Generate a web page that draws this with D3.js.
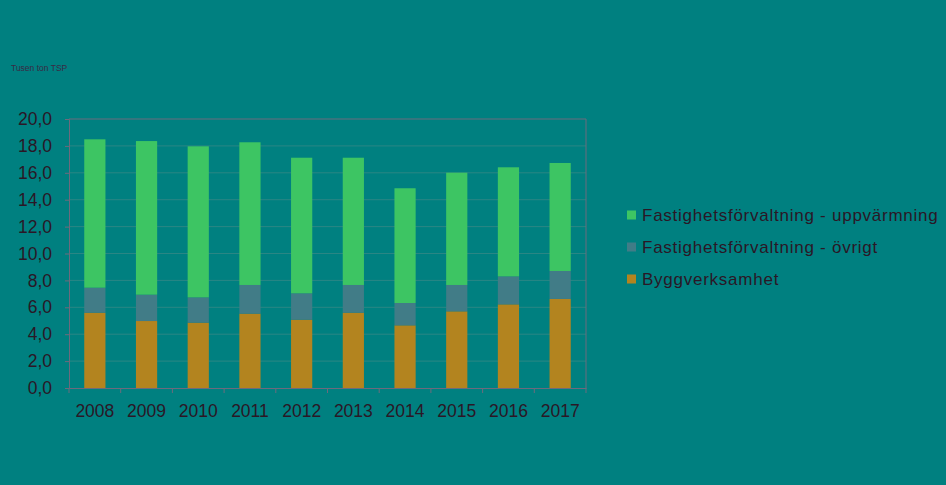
<!DOCTYPE html>
<html>
<head>
<meta charset="utf-8">
<script src="https://cdn.jsdelivr.net/npm/d3@7"></script>
<style>
  body { margin: 0; background: #008080; }
  svg { display: block; font-family: "Liberation Sans", Arial, sans-serif; }
</style>
</head>
<body>
<div id="chart"></div>
<script>
// data (tusen ton)
const years = ["2008", "2009", "2010", "2011", "2012", "2013", "2014", "2015", "2016", "2017"];
const bygg = [5.6, 4.98, 4.86, 5.53, 5.08, 5.6, 4.66, 5.7, 6.22, 6.62];
const ovrigt = [1.86, 1.96, 1.88, 2.13, 1.96, 2.06, 1.66, 1.96, 2.08, 2.08];
const uppvarm = [11.03, 11.42, 11.23, 10.61, 10.08, 9.46, 8.53, 8.35, 8.11, 8.03];
const yTicks = [0, 2, 4, 6, 8, 10, 12, 14, 16, 18, 20];
const seriesNames = ["Byggverksamhet", "Fastighetsförvaltning - övrigt", "Fastighetsförvaltning - uppvärmning"];

const width = 946, height = 485;
const plot = { left: 69, right: 586, top: 119, bottom: 388 };
const textCol = "#2a1726";
const axisCol = "#6d6a7c";

const colors = { "Byggverksamhet": "#b3841f", "Fastighetsförvaltning - övrigt": "#417c87", "Fastighetsförvaltning - uppvärmning": "#3dc563" };

const svg = d3.select("#chart").append("svg")
  .attr("width", width)
  .attr("height", height);

// table for the stack
const rows = years.map((y, i) => ({
  year: y,
  "Byggverksamhet": bygg[i],
  "Fastighetsförvaltning - övrigt": ovrigt[i],
  "Fastighetsförvaltning - uppvärmning": uppvarm[i]
}));

const x = d3.scaleBand()
  .domain(years)
  .range([plot.left, plot.right])
  .paddingInner(0.59)
  .paddingOuter(0.295);

const y = d3.scaleLinear()
  .domain([0, 20])
  .range([plot.bottom, plot.top]);

// unit label
svg.append("text")
  .attr("x", 11)
  .attr("y", 71)
  .style("font-size", "8.5px")
  .style("fill", "#3a2a44")
  .text("Tusen ton TSP");

// gridlines
svg.append("g")
  .selectAll("line")
  .data(yTicks.filter(d => d > 0 && d < 20))
  .enter()
  .append("line")
  .attr("x1", plot.left)
  .attr("x2", plot.right)
  .attr("y1", d => y(d))
  .attr("y2", d => y(d))
  .attr("stroke", "#2a8684")
  .attr("stroke-width", 1);

// plot border (top and right)
svg.append("path")
  .attr("d", `M${plot.left},${y(20)}H${plot.right}V${plot.bottom}`)
  .attr("fill", "none")
  .attr("stroke", axisCol)
  .attr("stroke-width", 1);

// stacked bars
const stack = d3.stack().keys(seriesNames);
const layers = stack(rows);

svg.append("g")
  .selectAll("g")
  .data(layers)
  .enter()
  .append("g")
  .attr("fill", d => colors[d.key])
  .selectAll("rect")
  .data(d => d)
  .enter()
  .append("rect")
  .attr("x", d => x(d.data.year))
  .attr("y", d => y(d[1]))
  .attr("width", x.bandwidth())
  .attr("height", d => y(d[0]) - y(d[1]));

// y axis
const yAxis = svg.append("g")
  .attr("transform", `translate(${plot.left},0)`)
  .call(d3.axisLeft(y)
    .tickValues(yTicks)
    .tickSize(4)
    .tickPadding(13)
    .tickFormat(d => d3.format(".1f")(d).replace(".", ",")));
yAxis.select(".domain").attr("stroke", axisCol);
yAxis.selectAll(".tick line").attr("stroke", axisCol);
yAxis.selectAll("text")
  .style("font-size", "17.5px")
  .style("fill", textCol)
  .style("font-family", "Liberation Sans, Arial, sans-serif");

// x axis: labels centred on bars, tick marks between categories
const xAxis = svg.append("g")
  .attr("transform", `translate(0,${plot.bottom})`)
  .call(d3.axisBottom(x).tickSize(0).tickPadding(17));
xAxis.select(".domain").attr("stroke", axisCol);
xAxis.selectAll("text")
  .style("font-size", "17.5px")
  .style("fill", textCol)
  .style("font-family", "Liberation Sans, Arial, sans-serif");

const half = x.step() * x.paddingInner() / 2;
const bounds = years.map(d => x(d) - half).concat([x(years[years.length - 1]) + x.bandwidth() + half]);
svg.append("g")
  .selectAll("line")
  .data(bounds)
  .enter()
  .append("line")
  .attr("x1", d => d)
  .attr("x2", d => d)
  .attr("y1", plot.bottom)
  .attr("y2", plot.bottom + 5)
  .attr("stroke", axisCol);

// legend, top entry is the top of the stack
const legendOrder = seriesNames.slice().reverse();
const legend = svg.append("g")
  .selectAll("g")
  .data(legendOrder)
  .enter()
  .append("g")
  .attr("transform", (d, i) => `translate(627,${215 + i * 32})`);

legend.append("rect")
  .attr("x", 0)
  .attr("y", -4.5)
  .attr("width", 9)
  .attr("height", 9)
  .attr("fill", d => colors[d]);

legend.append("text")
  .attr("x", 15)
  .attr("y", 6)
  .style("font-size", "17px")
  .style("letter-spacing", "0.75px")
  .style("fill", textCol)
  .text(d => d);
</script>
</body>
</html>
